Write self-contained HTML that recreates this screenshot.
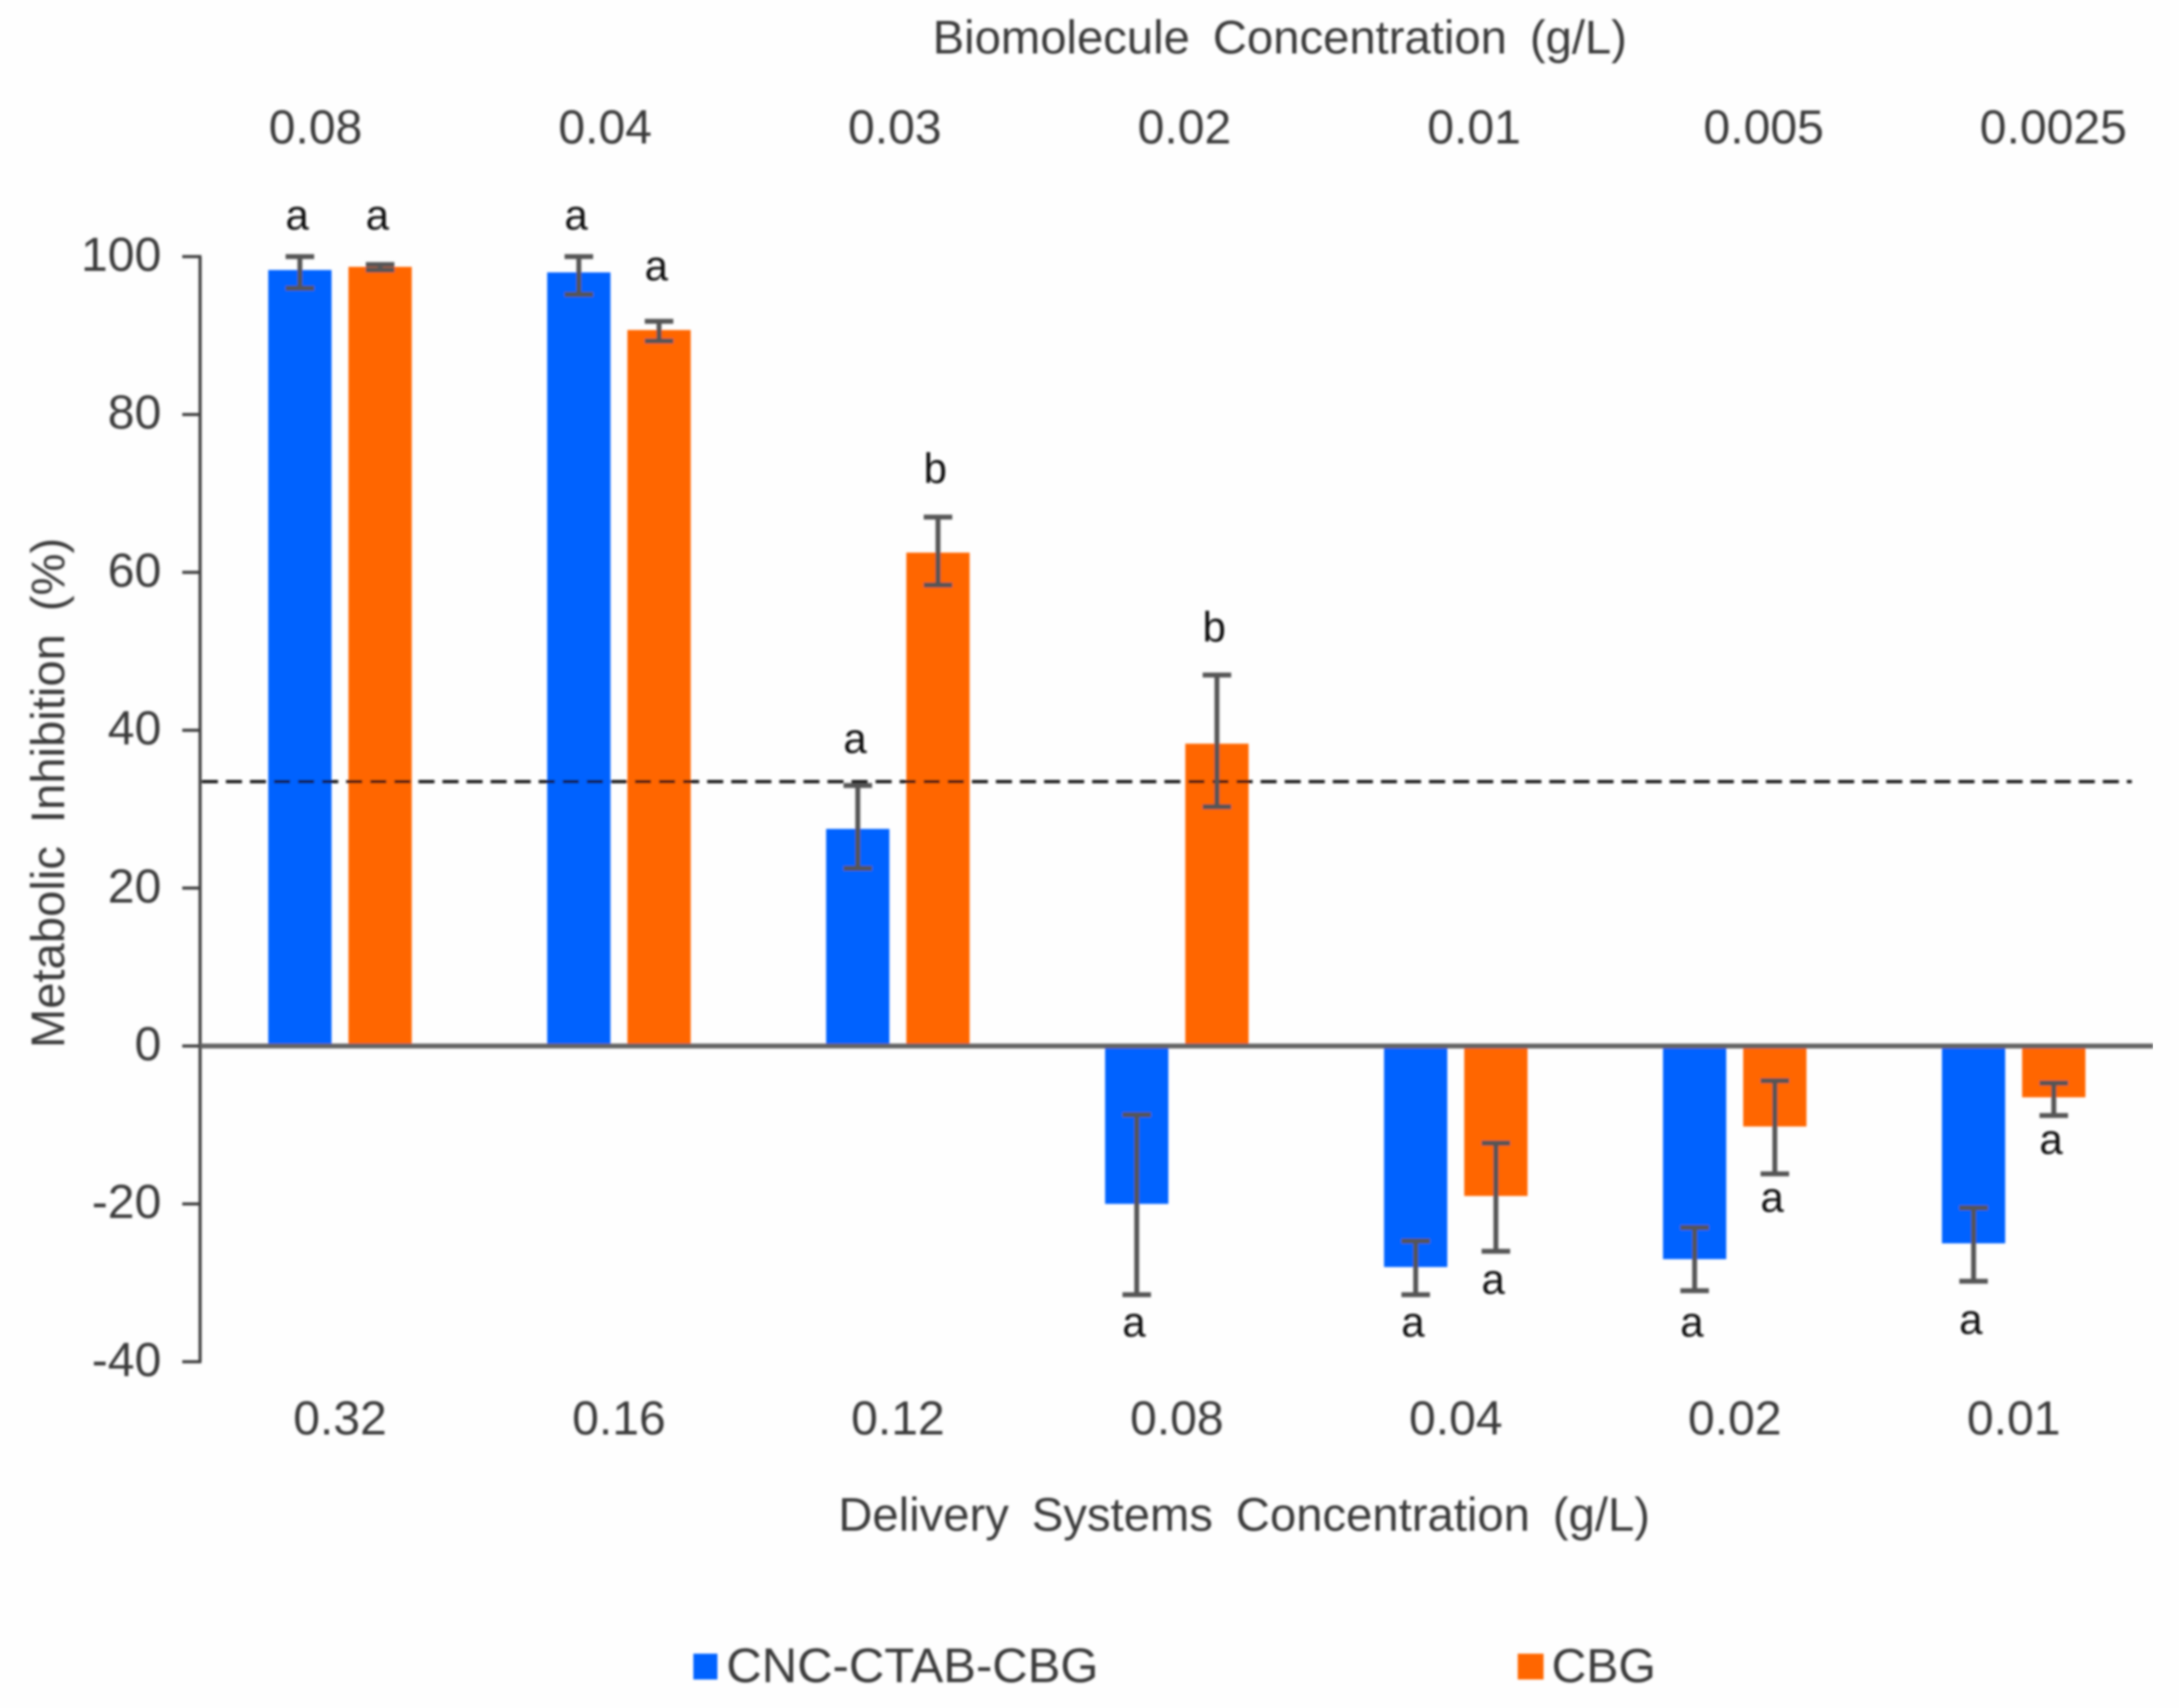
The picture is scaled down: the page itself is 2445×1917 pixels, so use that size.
<!DOCTYPE html>
<html lang="en">
<head>
<meta charset="utf-8">
<title>Metabolic Inhibition Chart</title>
<style>
html,body{margin:0;padding:0;background:#fefefe;}
svg{display:block;}
text{font-family:"Liberation Sans",sans-serif;fill:#3a3a3a;}
</style>
</head>
<body>
<svg id="chart" xmlns="http://www.w3.org/2000/svg" width="2445" height="1917" viewBox="0 0 2445 1917">
  <defs>
    <filter id="soft" x="0" y="0" width="100%" height="100%"><feGaussianBlur stdDeviation="1.2"/></filter>
  </defs>
  <rect x="0" y="0" width="2445" height="1917" fill="#fefefe"/>
  <g id="root" filter="url(#soft)">
    <text x="1436" y="60" font-size="53" text-anchor="middle" word-spacing="11">Biomolecule Concentration (g/L)</text>
    <text x="1396" y="1718" font-size="53" text-anchor="middle" word-spacing="11">Delivery Systems Concentration (g/L)</text>
    <text x="0" y="0" font-size="53" text-anchor="middle" word-spacing="11" transform="translate(72 890) rotate(-90)">Metabolic Inhibition (%)</text>
    <g id="bars"></g>
    <g id="axes"></g>
    <g id="errors"></g>
    <g id="labels"></g>
    <rect x="778" y="1856" width="27" height="29" fill="#0062ff"/>
    <text x="815" y="1888" font-size="55">CNC-CTAB-CBG</text>
    <rect x="1703" y="1856" width="29" height="29" fill="#ff6600"/>
    <text x="1741" y="1888" font-size="54">CBG</text>
  </g>
</svg>
<script>
const deliveryLabels = ['0.32', '0.16', '0.12', '0.08', '0.04', '0.02', '0.01'];
const biomoleculeLabels = ['0.08', '0.04', '0.03', '0.02', '0.01', '0.005', '0.0025'];
const yTicks = [100, 80, 60, 40, 20, 0, -20, -40];
const blueValues = [98.3, 98, 27.5, -20, -28, -27, -25];
const orangeValues = [98.7, 90.7, 62.5, 38.3, -19, -10.2, -6.5];
const blueErrHigh = [100, 100, 33, -8.7, -24.7, -23, -20.5];
const blueErrLow = [96, 95.2, 22.5, -31.5, -31.5, -31, -29.8];
const orangeErrHigh = [99, 91.8, 67, 47, -12.3, -4.4, -4.7];
const orangeErrLow = [98.3, 89.3, 58.4, 30.3, -26, -16.2, -8.8];
const blueLetters = ['a', 'a', 'a', 'a', 'a', 'a', 'a'];
const orangeLetters = ['a', 'a', 'b', 'b', 'a', 'a', 'a'];
const blueLetterAt = [105, 105, 38.7, -35.2, -35.2, -35.2, -34.9];
const orangeLetterAt = [105, 98.6, 72.9, 52.8, -29.8, -19.4, -12.1];
const thresholdValue = 33.5;

const NS = 'http://www.w3.org/2000/svg';
const Y0 = 1174, UNIT = 8.86;
const yScale = v => Y0 - v * UNIT;
const groupX = i => 381.5 + i * 313;
const topX = i => 354 + i * 325;
const BAR_W = 71, BAR_OFF = 45, CAP = 32;
const axisX = 224.5, zeroEnd = 2416;
const barsG = document.getElementById('bars');
const axesG = document.getElementById('axes');
const errG = document.getElementById('errors');
const labG = document.getElementById('labels');

function mk(tag, parent, props) {
  const el = document.createElementNS(NS, tag);
  for (const k in props) el.setAttribute(k, props[k]);
  parent.appendChild(el);
  return el;
}

function drawSeries(values, high, low, letters, letterAt, sign, color) {
  values.forEach((v, i) => {
    const cx = groupX(i) + sign * BAR_OFF;
    const bar = mk('rect', barsG, {
      x: cx - BAR_W / 2,
      y: Math.min(yScale(v), Y0),
      width: BAR_W,
      height: Math.abs(yScale(v) - Y0),
      fill: color
    });
    
    

    const stem = mk('line', errG, {
      x1: cx, x2: cx, y1: yScale(high[i]), y2: yScale(low[i]),
      stroke: '#555', 'stroke-width': 5.5
    });
    
    

    [high[i], low[i]].forEach(e => {
      const cap = mk('line', errG, {
        x1: cx - CAP / 2, x2: cx + CAP / 2, y1: yScale(e), y2: yScale(e),
        stroke: '#555', 'stroke-width': 5.5
      });
      
      
    });

    const letter = mk('text', labG, {
      x: cx - 3,
      y: yScale(letterAt[i]) + 14,
      'font-size': 47,
      'text-anchor': 'middle'
    });
    letter.style.fill = '#111';
    letter.textContent = letters[i];
    
    
  });
}

drawSeries(blueValues, blueErrHigh, blueErrLow, blueLetters, blueLetterAt, -1, '#0062ff');
drawSeries(orangeValues, orangeErrHigh, orangeErrLow, orangeLetters, orangeLetterAt, 1, '#ff6600');

const yAxis = mk('line', axesG, {
  x1: axisX, x2: axisX,
  y1: yScale(yTicks[0]), y2: yScale(yTicks[yTicks.length - 1]),
  stroke: '#404040', 'stroke-width': 3.5
});



yTicks.forEach(t => {
  const tick = mk('line', axesG, {
    x1: axisX - 20, x2: axisX + 1.5, y1: yScale(t), y2: yScale(t),
    stroke: '#404040', 'stroke-width': 3.5
  });
  
  

  const lab = mk('text', labG, {
    x: 181, y: yScale(t) + 16, 'font-size': 54, 'text-anchor': 'end'
  });
  lab.textContent = String(t);
  
  
});

const zero = mk('line', axesG, {
  x1: axisX, x2: zeroEnd, y1: yScale(0), y2: yScale(0),
  stroke: '#636363', 'stroke-width': 5.5
});



const threshold = mk('line', axesG, {
  x1: axisX + 2, x2: 2392, y1: yScale(thresholdValue), y2: yScale(thresholdValue),
  stroke: '#111', 'stroke-width': 3.5, 'stroke-dasharray': '18 9'
});



deliveryLabels.forEach((t, i) => {
  const lab = mk('text', labG, {
    x: groupX(i), y: 1610, 'font-size': 54, 'text-anchor': 'middle'
  });
  lab.textContent = t;
  
  
});

biomoleculeLabels.forEach((t, i) => {
  const lab = mk('text', labG, {
    x: topX(i), y: 161, 'font-size': 54, 'text-anchor': 'middle'
  });
  lab.textContent = t;
  
  
});
</script>
</body>
</html>
